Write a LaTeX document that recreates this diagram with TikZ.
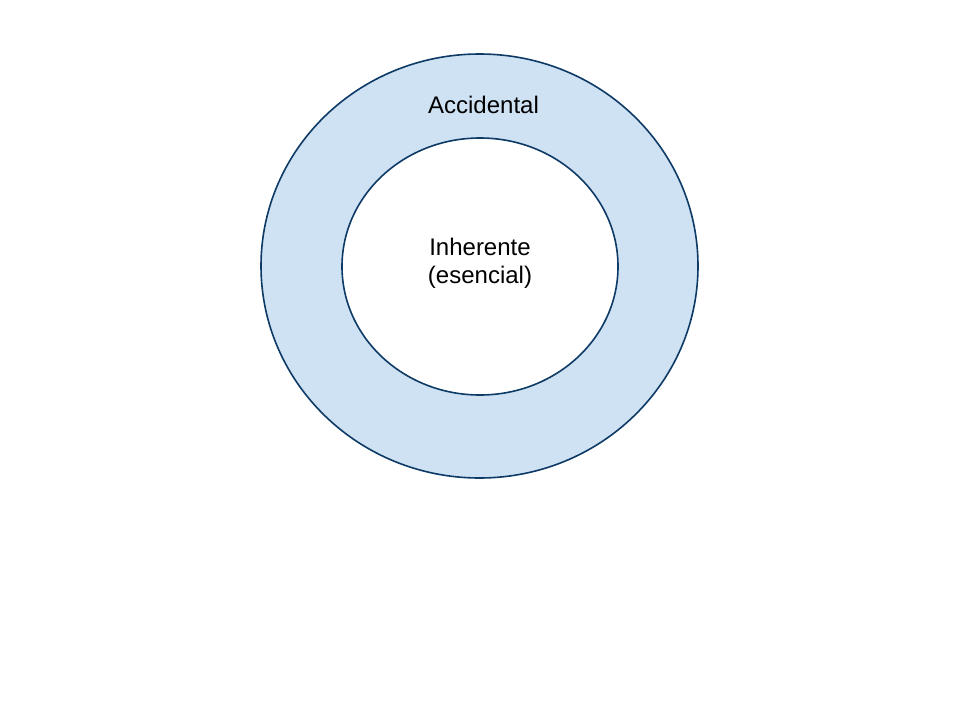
\documentclass[tikz,border=0pt]{standalone}
\usepackage{fontspec}
\setmainfont{Liberation Sans}
\definecolor{ringfill}{HTML}{CFE2F3}
\definecolor{ringline}{HTML}{0E3A66}
\begin{document}
\begin{tikzpicture}[x=1pt,y=-1pt,
  ring/.style={draw=ringline,line width=1.6pt},
  lbl/.style={font=\fontsize{24}{28}\selectfont,align=center,inner sep=0pt}]
\useasboundingbox (0,0) rectangle (960,720);
\fill[white] (0,0) rectangle (960,720);
\draw[ring,fill=ringfill] (479.5,266) ellipse [x radius=218.5, y radius=212];
\draw[ring,fill=white] (480,266.5) ellipse [x radius=138, y radius=128.5];
\node[lbl] (acc) at (483.5,105) {Accidental};
\node[lbl] (inh) at (480,263.5) {Inherente\\(esencial)};
\end{tikzpicture}
\end{document}
